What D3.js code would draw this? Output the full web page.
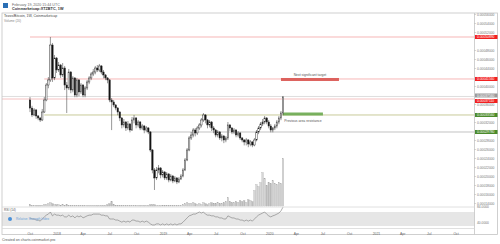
<!DOCTYPE html>
<html>
<head>
<meta charset="utf-8">
<script src="https://cdn.jsdelivr.net/npm/d3@7"></script>
<style>
body{margin:0;background:#fff;font-family:"Liberation Sans",Arial,sans-serif}
svg{display:block}
</style>
</head>
<body>
<script>
// weekly candles, prices in satoshi (1e-8 BTC), first week starts 2017-10-02
var firstWeek = '2017-10-02'
var candles = [
  [36900,37560,34200,35100],[35100,35600,33100,33560],[33560,35100,33300,34670],[34670,34900,32700,33340],
  [33340,33560,32400,32890],[32890,33100,32000,32450],[32450,34900,32200,34220],[34220,37560,34000,36890],
  [36890,40670,36600,40220],[40220,42000,39500,41340],[41340,50890,40900,49110],[49110,49560,40900,41780],
  [41780,46890,41300,46220],[46220,46450,42900,43560],[43560,45330,43100,44670],[44670,44900,41800,42450],
  [42450,45110,42000,44000],[44000,44450,39100,40220],[40220,40890,34000,39560],[39560,43780,39100,43110],
  [43110,43330,38400,39110],[39110,42200,38600,41780],[41780,42000,37500,38000],[38000,41800,37500,41340],
  [41340,41560,37700,38670],[38670,40670,38200,40220],[40220,40450,37500,38000],[38000,40000,37500,39560],
  [39560,41340,39100,40890],[40890,42200,40400,41780],[41780,43100,41300,42670],[42670,43780,42200,43110],
  [43110,44450,42600,44000],[44000,44670,43100,43560],[43560,44900,43100,44450],[44450,44670,42600,43110],
  [43110,43560,41700,42450],[42450,42670,41300,41780],[41780,42000,40600,41340],[41340,41560,36400,36890],
  [36890,37330,30200,36450],[36450,36890,35300,35780],[35780,36000,34600,35110],[35110,35330,33500,34220],
  [34220,34450,32200,32890],[32890,33110,30600,31340],[31340,32670,30800,32000],[32000,32220,30000,30670],
  [30670,32220,30200,31560],[31560,31780,29700,30220],[30220,33110,30000,32450],[32450,33560,31700,32890],
  [32890,33110,30600,31340],[31340,32450,30800,32000],[32000,32220,30200,30670],[30670,31560,30200,31110],
  [31110,31340,29500,30220],[30220,31110,29700,30670],[30670,30890,29300,29780],[29780,30000,25300,25780],
  [25780,26000,20600,21340],[21340,21780,16890,19560],[19560,22000,19100,21340],[21340,22450,20600,21780],
  [21780,22000,19500,20230],[20230,21340,19700,20890],[20890,21110,19100,19560],[19560,20890,19100,20450],
  [20450,20670,18600,19110],[19110,20450,18800,20000],[20000,20230,18400,18890],[18890,20000,18600,19560],
  [19560,19780,18200,18670],[18670,19780,18400,19340],[19340,20450,19100,20000],[20000,21780,19700,21340],
  [21340,24000,21100,23560],[23560,26220,23300,25780],[25780,28890,25500,28450],[28450,29780,28000,29110],
  [29110,30670,28600,30220],[30220,30670,28800,29560],[29560,31110,29100,30670],[30670,31780,30200,31340],
  [31340,32890,30800,32450],[32450,34000,32000,33560],[33560,33780,31700,32450],[32450,32670,30600,31340],
  [31340,32450,30800,32000],[32000,32220,30000,30670],[30670,31110,29500,30220],[30220,30450,28600,29110],
  [29110,30220,28600,29780],[29780,30000,28000,28450],[28450,29340,27700,28890],[28890,29110,27300,28000],
  [28000,28890,27500,28450],[28450,32000,28000,31340],[31340,31560,30000,30670],[30670,30890,29300,29780],
  [29780,30670,29300,30220],[30220,30450,28600,29110],[29110,30000,28600,29560],[29560,29780,28000,28450],
  [28450,28670,27500,28000],[28000,28220,26800,27560],[27560,28450,26800,28000],[28000,28220,26400,27110],
  [27110,28000,26600,27560],[27560,27780,26400,26890],[26890,28450,26600,28000],[28000,30220,27700,29780],
  [29780,31110,29300,30670],[30670,32000,30200,31560],[31560,32670,31100,32000],[32000,33340,31500,32890],
  [32890,33110,31500,32000],[32000,32450,30600,31110],[31110,31560,29700,30220],[30220,30890,29700,30670],
  [30670,31560,30200,31110],[31110,32450,30600,32000],[32000,33340,31500,32890],[32890,34450,32400,34000],
  [34000,37780,33500,37560]
]

var volumes = [
  20,10,10,10,10,10,10,20,20,30, 40,30,20,20,20,10,20,10,20,10,
  10,10,10,10,10,10,10,10,10,10, 10,10,10,10,10,10,10,10,20,30,
  50,20,10,10,10,10,10,10,10,10, 10,10,10,10,10,10,10,10,10,20,
  20,20,10,10,10,10,10,10,10,10, 10,10,10,10,10,20,30,40,30,30,
  40,30,20,30,20,40,30,20,30,40, 30,30,40,30,30,40,50,90,50,40,
  40,50,40,60,50,60,40,70,60,50, 160,220,200,240,340,280,210,240,230,260,
  230,220,240,230,480
]

var rsiValues = [
  53,50,50,47,47,44,50,56,61,64, 70,59,64,61,61,59,61,56,56,61,
  56,59,53,59,56,59,53,56,59,61, 61,64,64,64,64,61,61,59,59,50,
  50,50,47,47,44,41,44,41,44,41, 47,47,44,44,41,44,41,44,41,36,
  33,33,36,36,33,36,33,36,33,36, 33,36,33,36,36,41,47,53,59,61,
  64,64,67,70,67,70,64,61,61,59, 59,56,56,53,53,50,50,59,56,53,
  53,50,50,47,47,44,47,44,47,44, 50,56,61,64,67,70,64,59,56,59,
  61,64,67,73,84
]

var priceTicks = [56000,54000,52000,50000,48000,46000,44000,42000,40000,38000,36000,
  34000,32000,30000,28000,26000,24000,22000,20000,18000,16000,14000]

// horizontal levels
var levelPrices = [50890, 41560, 37110, 33560, 29780]
var levelStarts = ['2017-10-02', '2017-11-20', '2017-06-20', '2017-11-20', '2018-11-12']

var noteTexts = ['Next significant target', 'Previous area resistance']
var noteFrom = ['2020-02-10', '2020-02-17']
var noteTo = ['2020-08-27', '2020-07-03']
var noteLow = [41110, 33450]
var noteHigh = [41780, 34110]

var axisMonths = ['2017-10-01','2018-01-01','2018-04-01','2018-07-01','2018-10-01','2019-01-01',
  '2019-04-01','2019-07-01','2019-10-01','2020-01-01','2020-04-01','2020-07-01','2020-10-01',
  '2021-01-01','2021-04-01','2021-07-01','2021-10-01']

var parse = d3.utcParse('%Y-%m-%d')
var week0 = parse(firstWeek)
var data = candles.map((d, i) => ({
  date: d3.utcWeek.offset(week0, i),
  o: d[0], h: d[1], l: d[2], c: d[3],
  v: volumes[i], rsi: rsiValues[i]
}))

var pLeft = 2, pRight = 474.5, frameRight = 497.5
var pTop = 13, mainBottom = 206.5, rsiTop = 207, rsiBottom = 228.5, frameBottom = 234.5

var x = d3.scaleUtc()
  .domain([week0, data[data.length - 1].date])
  .range([30, 283])
var y = d3.scaleLinear().domain([56000, 14000]).range([14, 203])
var vY = d3.scaleLinear().domain([0, 500]).range([mainBottom, mainBottom - 50])
var rY = d3.scaleLinear().domain([30, 70]).range([226, 212])

var fmt = d => (d / 1e8).toFixed(8)

var svg = d3.select('body').append('svg').attr('width', 500).attr('height', 244)
svg.append('rect').attr('width', 500).attr('height', 244).attr('fill', '#fff')

// header
svg.append('rect').attr('x', 3).attr('y', 3).attr('width', 5).attr('height', 5).attr('fill', '#2a6fb5')
svg.append('text').attr('x', 12).attr('y', 5.5).attr('font-size', 3.6).attr('fill', '#666')
  .text('February 19, 2020 15:44 UTC')
svg.append('text').attr('x', 12).attr('y', 10).attr('font-size', 3.8).attr('font-weight', 'bold').attr('fill', '#333')
  .text('Coinmarketcap:XTZBTC, 1W')

svg.append('clipPath').attr('id', 'plot')
  .append('rect').attr('x', pLeft).attr('y', pTop).attr('width', pRight - pLeft).attr('height', mainBottom - pTop)

var plot = svg.append('g').attr('clip-path', 'url(#plot)')

// volume bars
plot.selectAll('rect.vol').data(data).join('rect')
  .attr('class', 'vol')
  .attr('x', d => x(d.date) - 0.75)
  .attr('width', 1.5)
  .attr('y', d => vY(d.v))
  .attr('height', d => mainBottom - vY(d.v))
  .attr('fill', d => d.c >= d.o ? '#d6d6d6' : '#bdbdbd')
  .attr('stroke', '#a8a8a8').attr('stroke-width', 0.3)

// levels
var lineColors = ['#f4a3a3', '#f4a3a3', '#f2b3b3', '#b9bd7e', '#b4b4b4']
var boxColors = ['#f21f1f', '#f21f1f', '#f21f1f', '#4a8a2a', '#4a8a2a']
levelPrices.forEach((p, i) => {
  plot.append('line')
    .attr('x1', x(parse(levelStarts[i]))).attr('x2', pRight)
    .attr('y1', y(p)).attr('y2', y(p))
    .attr('stroke', lineColors[i]).attr('stroke-width', 0.8)
})

// current price line
var last = data[data.length - 1]
plot.append('line')
  .attr('x1', pLeft).attr('x2', pRight)
  .attr('y1', y(last.c) - 0.5).attr('y2', y(last.c) - 0.5)
  .attr('stroke', '#c8c8c8').attr('stroke-width', 0.6)

// notes
var noteFills = ['#d9534f', '#6aa84f']
noteTexts.forEach((t, i) => {
  var x0 = x(parse(noteFrom[i])), x1 = x(parse(noteTo[i]))
  plot.append('rect')
    .attr('x', x0).attr('width', x1 - x0)
    .attr('y', y(noteHigh[i])).attr('height', y(noteLow[i]) - y(noteHigh[i]))
    .attr('fill', noteFills[i]).attr('opacity', 0.9)
  plot.append('text')
    .attr('x', (x0 + x1) / 2)
    .attr('y', i == 0 ? y(noteHigh[i]) - 2.2 : y(noteLow[i]) + 6.5)
    .attr('text-anchor', 'middle').attr('font-size', 3.4).attr('fill', '#555')
    .text(t)
})

// candles
var cSel = plot.selectAll('g.candle').data(data).join('g').attr('class', 'candle')
cSel.append('line')
  .attr('x1', d => x(d.date)).attr('x2', d => x(d.date))
  .attr('y1', d => y(d.h)).attr('y2', d => y(d.l))
  .attr('stroke', '#333').attr('stroke-width', 0.5)
cSel.append('rect')
  .attr('x', d => x(d.date) - 0.7)
  .attr('width', 1.4)
  .attr('y', d => y(Math.max(d.o, d.c)))
  .attr('height', d => Math.max(0.6, Math.abs(y(d.o) - y(d.c))))
  .attr('fill', d => d.c >= d.o ? '#fff' : '#111')
  .attr('stroke', '#222').attr('stroke-width', 0.45)

// chart titles
svg.append('text').attr('x', 4).attr('y', 17).attr('font-size', 3.5).attr('fill', '#444')
  .text('Tezos/Bitcoin, 1W, Coinmarketcap')
svg.append('text').attr('x', 4).attr('y', 21.5).attr('font-size', 3.2).attr('fill', '#888')
  .text('Volume (20)')

// rsi pane
svg.append('rect')
  .attr('x', pLeft).attr('width', pRight - pLeft)
  .attr('y', rY(70)).attr('height', rY(30) - rY(70))
  .attr('fill', '#e6e6e6')
svg.append('path')
  .datum(data)
  .attr('d', d3.line().x(d => x(d.date)).y(d => rY(d.rsi)))
  .attr('fill', 'none').attr('stroke', '#7a7a7a').attr('stroke-width', 0.6)
svg.append('text').attr('x', 4).attr('y', 211).attr('font-size', 3.2).attr('fill', '#555').text('RSI (14)')
svg.append('circle').attr('cx', 10).attr('cy', 219).attr('r', 2).attr('fill', '#4a90d9')
svg.append('text').attr('x', 16).attr('y', 220.2).attr('font-size', 3.2).attr('fill', '#6a9fd8')
  .text('Relative Strength Index')

// frame and separators
var g = svg.append('g').attr('fill', 'none').attr('stroke', '#c4c4c4').attr('stroke-width', 0.8)
g.append('rect').attr('x', pLeft).attr('y', pTop).attr('width', frameRight - pLeft).attr('height', frameBottom - pTop)
g.append('line').attr('x1', pRight).attr('x2', pRight).attr('y1', pTop).attr('y2', frameBottom)
g.append('line').attr('x1', pLeft).attr('x2', pRight).attr('y1', rsiTop).attr('y2', rsiTop).attr('stroke', '#d8d8d8')
g.append('line').attr('x1', pLeft).attr('x2', pRight).attr('y1', rsiBottom).attr('y2', rsiBottom).attr('stroke', '#d8d8d8')

// time axis
var xAxis = d3.axisBottom(x)
  .tickValues(axisMonths.map(parse))
  .tickSize(0)
  .tickFormat(d => d.getUTCMonth() == 0 ? d3.utcFormat('%Y')(d) : d3.utcFormat('%b')(d))
svg.append('g')
  .attr('transform', 'translate(0,' + (rsiBottom + 0.5) + ')')
  .call(xAxis)
  .call(s => s.select('.domain').remove())
  .selectAll('text').attr('font-size', 3.4).attr('fill', '#666').attr('dy', '0.9em')

// price axis, hide ticks that sit under a level label
var last = data[data.length - 1]
var labelYs = levelPrices.map(p => y(p)).concat([y(last.c)])
var yAxis = d3.axisRight(y).tickValues(priceTicks).tickSize(1.5).tickPadding(1).tickFormat(fmt)
svg.append('g')
  .attr('transform', 'translate(' + pRight + ',0)')
  .call(yAxis)
  .call(s => s.select('.domain').remove())
  .call(s => s.selectAll('line').attr('stroke', '#999').attr('stroke-width', 0.4))
  .call(s => s.selectAll('.tick').filter(d => labelYs.some(ly => Math.abs(ly - y(d)) < 4.5)).remove())
  .selectAll('text').attr('font-size', 3.3).attr('fill', '#777')

// level labels
var shift = [0, 0, 2, 0, 0]
levelPrices.forEach((p, i) => {
  var ly = y(p) + shift[i]
  svg.append('rect').attr('x', pRight + 0.5).attr('y', ly - 2).attr('width', 22.5).attr('height', 4)
    .attr('fill', boxColors[i])
  svg.append('text').attr('x', pRight + 2.5).attr('y', ly + 1.2).attr('font-size', 3.3).attr('fill', '#fff')
    .text(fmt(p))
})
var cy = y(last.c) - 1.5
svg.append('rect').attr('x', pRight + 0.5).attr('y', cy - 2).attr('width', 22.5).attr('height', 4).attr('fill', '#9a9a9a')
svg.append('text').attr('x', pRight + 2.5).attr('y', cy + 1.2).attr('font-size', 3.3).attr('fill', '#fff').text(fmt(last.c))

// rsi axis labels
svg.append('text').attr('x', pRight + 2.5).attr('y', rY(last.rsi) + 1.2).attr('font-size', 3.3).attr('fill', '#777')
  .text(last.rsi.toFixed(4))
svg.append('text').attr('x', pRight + 2.5).attr('y', rY(40) + 1.2).attr('font-size', 3.3).attr('fill', '#777')
  .text('40.0000')

// footer
svg.append('text').attr('x', 2).attr('y', 241).attr('font-size', 3.6).attr('fill', '#555')
  .text('Created on charts.coinmarket.pro')
</script>
</body>
</html>
